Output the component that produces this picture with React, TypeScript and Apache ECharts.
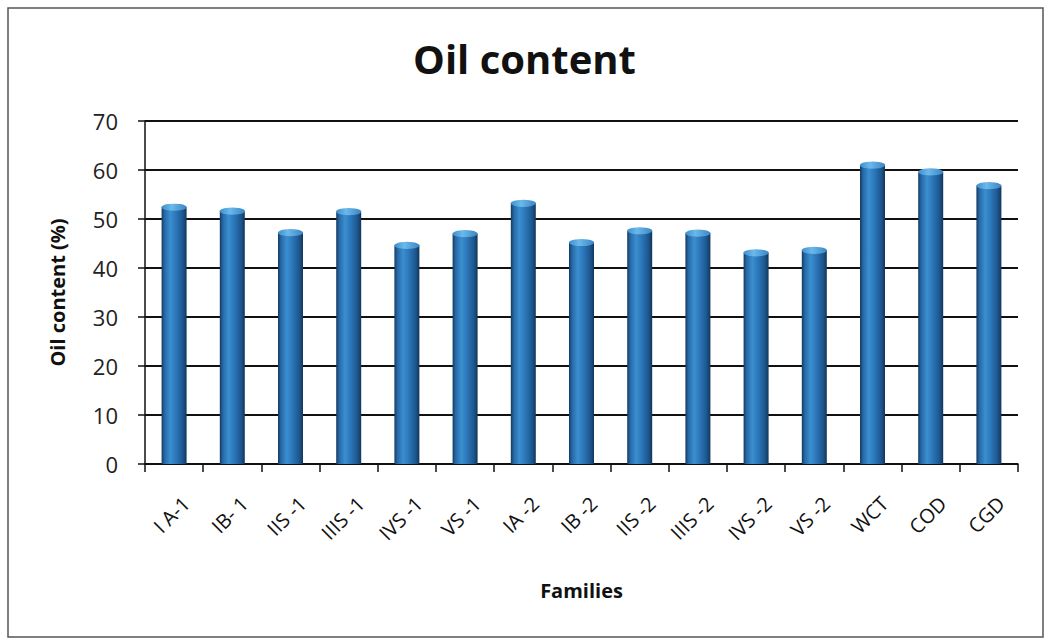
import React, { useEffect, useRef } from "react";
import * as echarts from "echarts";

const families = [
  "I A-1", "IB- 1", "IIS -1", "IIIS -1", "IVS -1", "VS -1",
  "IA -2", "IB -2", "IIS -2", "IIIS -2", "IVS -2", "VS -2",
  "WCT", "COD", "CGD",
];
const oilContent = [
  52.4, 51.6, 47.2, 51.5, 44.6, 47.0,
  53.2, 45.2, 47.6, 47.1, 43.1, 43.6,
  61.0, 59.6, 56.8,
];
const yTicks = { min: 0, max: 70, interval: 10 };

const FONT = "'Open Sans', 'DejaVu Sans', sans-serif";

export default function App() {
  const ref = useRef<HTMLDivElement>(null);

  useEffect(() => {
    if (!ref.current) return;
    const chart = echarts.init(ref.current, undefined, { renderer: "svg" });

    const barFill = new echarts.graphic.LinearGradient(0, 0, 1, 0, [
      { offset: 0, color: "#143a60" },
      { offset: 0.12, color: "#2768a6" },
      { offset: 0.35, color: "#3a8fd0" },
      { offset: 0.6, color: "#2a74b6" },
      { offset: 0.85, color: "#1d568e" },
      { offset: 1, color: "#123659" },
    ]);
    const capFill = new echarts.graphic.LinearGradient(0, 0, 1, 0, [
      { offset: 0, color: "#3f8fcc" },
      { offset: 0.4, color: "#6bb8ea" },
      { offset: 1, color: "#3b86c4" },
    ]);

    chart.setOption({
      animation: false,
      backgroundColor: "#ffffff",
      title: {
        text: "Oil content",
        left: "center",
        top: 33,
        textStyle: { fontFamily: FONT, fontSize: 40, fontWeight: "bold", color: "#111" },
      },
      graphic: [
        {
          type: "rect",
          shape: { x: 8, y: 8, width: 1035, height: 629 },
          style: { fill: "none", stroke: "#555", lineWidth: 1.5 },
          silent: true,
        },
      ],
      grid: { left: 145, right: 31, top: 121, bottom: 180, containLabel: false },
      xAxis: {
        type: "category",
        data: families,
        name: "Families",
        nameLocation: "middle",
        nameGap: 116,
        nameTextStyle: { fontFamily: FONT, fontSize: 20, fontWeight: "bold", color: "#111" },
        axisLine: { lineStyle: { color: "#111", width: 1.5 } },
        axisTick: { show: true, length: 8, lineStyle: { color: "#111", width: 1.5 } },
        axisLabel: {
          rotate: 45,
          margin: 24,
          verticalAlign: "top",
          padding: [7, 0, 0, 0],
          fontFamily: FONT,
          fontSize: 20,
          color: "#111",
          interval: 0,
        },
      },
      yAxis: {
        type: "value",
        ...yTicks,
        name: "Oil content (%)",
        nameLocation: "middle",
        nameRotate: 90,
        nameGap: 78,
        nameTextStyle: { fontFamily: FONT, fontSize: 20, fontWeight: "bold", color: "#111" },
        axisLine: { show: true, lineStyle: { color: "#111", width: 1.5 } },
        axisTick: { show: true, length: 7, lineStyle: { color: "#111", width: 1.5 } },
        axisLabel: { margin: 27, fontFamily: FONT, fontSize: 22, color: "#222" },
        splitLine: { lineStyle: { color: "#111", width: 2 } },
      },
      series: [
        {
          type: "bar",
          data: oilContent,
          barWidth: 25,
          itemStyle: { color: barFill },
          z: 2,
        },
        {
          type: "pictorialBar",
          data: oilContent,
          symbol: "circle",
          symbolSize: [25, 7],
          symbolPosition: "end",
          symbolOffset: [0, "-50%"],
          itemStyle: { color: capFill },
          z: 3,
          silent: true,
        },
      ],
    });

    return () => chart.dispose();
  }, []);

  return (
    <div
      ref={ref}
      style={{ position: "fixed", left: 0, top: 0, width: 1049, height: 644, background: "#fff" }}
    />
  );
}
